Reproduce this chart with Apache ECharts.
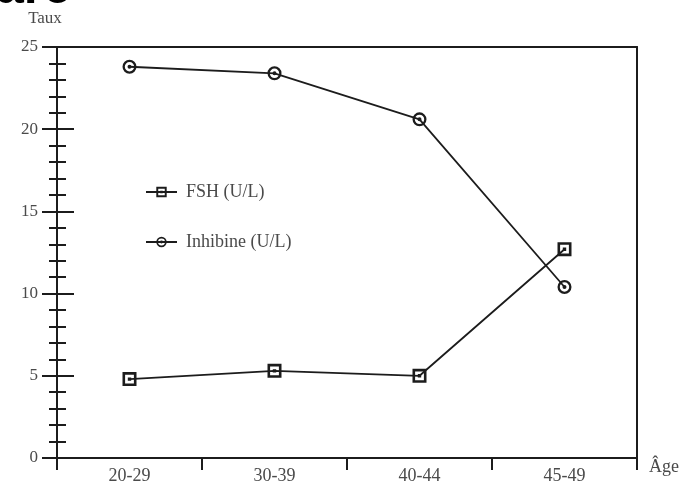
<!DOCTYPE html>
<html>
<head>
<meta charset="utf-8">
<script src="https://cdn.jsdelivr.net/npm/echarts@6/dist/echarts.min.js"></script>
<style>
  html, body { margin: 0; padding: 0; background: #fff; }
  #chart { width: 688px; height: 490px; }
</style>
</head>
<body>
<div id="chart"></div>
<script>
// Age groups on the x axis
const ageGroups = ['20-29', '30-39', '40-44', '45-49'];
// Hormone levels (U/L) per age group
const fshValues = [4.8, 5.3, 5.0, 12.7];
const inhibineValues = [23.8, 23.4, 20.6, 10.4];
// Series names as shown in the legend
const fshName = 'FSH (U/L)';
const inhibineName = 'Inhibine (U/L)';

const serif = '"Liberation Serif", "DejaVu Serif", serif';
const ink = '#1c1c1c';
const textGrey = '#4a4a4a';

// Marker shapes: thick outlined shape, white gap, dark centre dot
const squareMarker = 'path://M0,0 L14,0 L14,14 L0,14 Z M2.6,2.6 L2.6,11.4 L11.4,11.4 L11.4,2.6 Z M5.3,5.3 L8.7,5.3 L8.7,8.7 L5.3,8.7 Z';
const circleMarker = 'path://M7,0 A7,7 0 1,1 7,14 A7,7 0 1,1 7,0 Z M7,2.3 A4.7,4.7 0 1,0 7,11.7 A4.7,4.7 0 1,0 7,2.3 Z M7,5 A2,2 0 1,1 7,9 A2,2 0 1,1 7,5 Z';

const chart = echarts.init(document.getElementById('chart'), null, { renderer: 'canvas' });

chart.setOption({
  animation: false,
  backgroundColor: '#fff',
  grid: { left: 57, right: 51, top: 47, bottom: 32, containLabel: false },
  legend: {
    orient: 'vertical',
    left: 140,
    top: 178,
    itemGap: 32,
    itemWidth: 31,
    itemHeight: 13,
    textStyle: { fontFamily: serif, fontSize: 18, color: textGrey, padding: [0, 0, 0, 4] },
    data: [fshName, inhibineName]
  },
  xAxis: [
    {
      type: 'category',
      data: ageGroups,
      boundaryGap: true,
      position: 'bottom',
      axisLine: { show: true, onZero: false, lineStyle: { color: ink, width: 2 } },
      axisTick: { show: true, inside: false, length: 12, lineStyle: { color: ink, width: 2 } },
      axisLabel: { fontFamily: serif, fontSize: 18, color: textGrey, margin: 9 },
      splitLine: { show: false },
      name: 'Âge',
      nameLocation: 'end',
      nameGap: 12,
      nameTextStyle: { fontFamily: serif, fontSize: 18, color: textGrey, verticalAlign: 'top', align: 'left' }
    },
    {
      // top frame edge
      type: 'category',
      data: ageGroups,
      position: 'top',
      axisLine: { show: true, onZero: false, lineStyle: { color: ink, width: 2 } },
      axisTick: { show: false },
      axisLabel: { show: false }
    }
  ],
  yAxis: [
    {
      type: 'value',
      min: 0,
      max: 25,
      interval: 5,
      position: 'left',
      axisLine: { show: true, onZero: false, lineStyle: { color: ink, width: 2 } },
      axisTick: { show: true, inside: true, length: 17, lineStyle: { color: ink, width: 2 } },
      minorTick: { show: true, splitNumber: 5, length: 9, lineStyle: { color: ink, width: 2 } },
      axisLabel: { fontFamily: serif, fontSize: 17, color: textGrey, margin: 19, padding: [0, 0, 8, 0] },
      splitLine: { show: false },
      name: 'Taux',
      nameLocation: 'end',
      nameGap: 20,
      nameTextStyle: { fontFamily: serif, fontSize: 17, color: textGrey, align: 'center', padding: [0, 0, 0, -24] }
    },
    {
      // outer half of the crossing ticks
      type: 'value',
      min: 0,
      max: 25,
      interval: 5,
      position: 'left',
      offset: 0,
      axisLine: { show: false },
      axisTick: { show: true, inside: false, length: 15, lineStyle: { color: ink, width: 2 } },
      minorTick: { show: true, splitNumber: 5, length: 8, lineStyle: { color: ink, width: 2 } },
      axisLabel: { show: false },
      splitLine: { show: false }
    },
    {
      // right frame edge
      type: 'value',
      min: 0,
      max: 25,
      interval: 5,
      position: 'right',
      axisLine: { show: true, onZero: false, lineStyle: { color: ink, width: 2 } },
      axisTick: { show: false },
      axisLabel: { show: false },
      splitLine: { show: false }
    }
  ],
  series: [
    {
      name: fshName,
      type: 'line',
      data: fshValues,
      xAxisIndex: 0,
      yAxisIndex: 0,
      symbol: squareMarker,
      symbolSize: 14,
      showAllSymbol: true,
      lineStyle: { color: ink, width: 1.8 },
      itemStyle: { color: ink },
      z: 5
    },
    {
      name: inhibineName,
      type: 'line',
      data: inhibineValues,
      xAxisIndex: 0,
      yAxisIndex: 0,
      symbol: circleMarker,
      symbolSize: 14,
      showAllSymbol: true,
      lineStyle: { color: ink, width: 1.8 },
      itemStyle: { color: ink },
      z: 5
    }
  ],
  graphic: [
    {
      // heading of the page above, clipped by the top edge
      type: 'text',
      left: -4,
      top: -36,
      style: { text: 'are', font: 'bold 50px "Liberation Sans", sans-serif', fill: '#000' }
    }
  ]
});
</script>
</body>
</html>
